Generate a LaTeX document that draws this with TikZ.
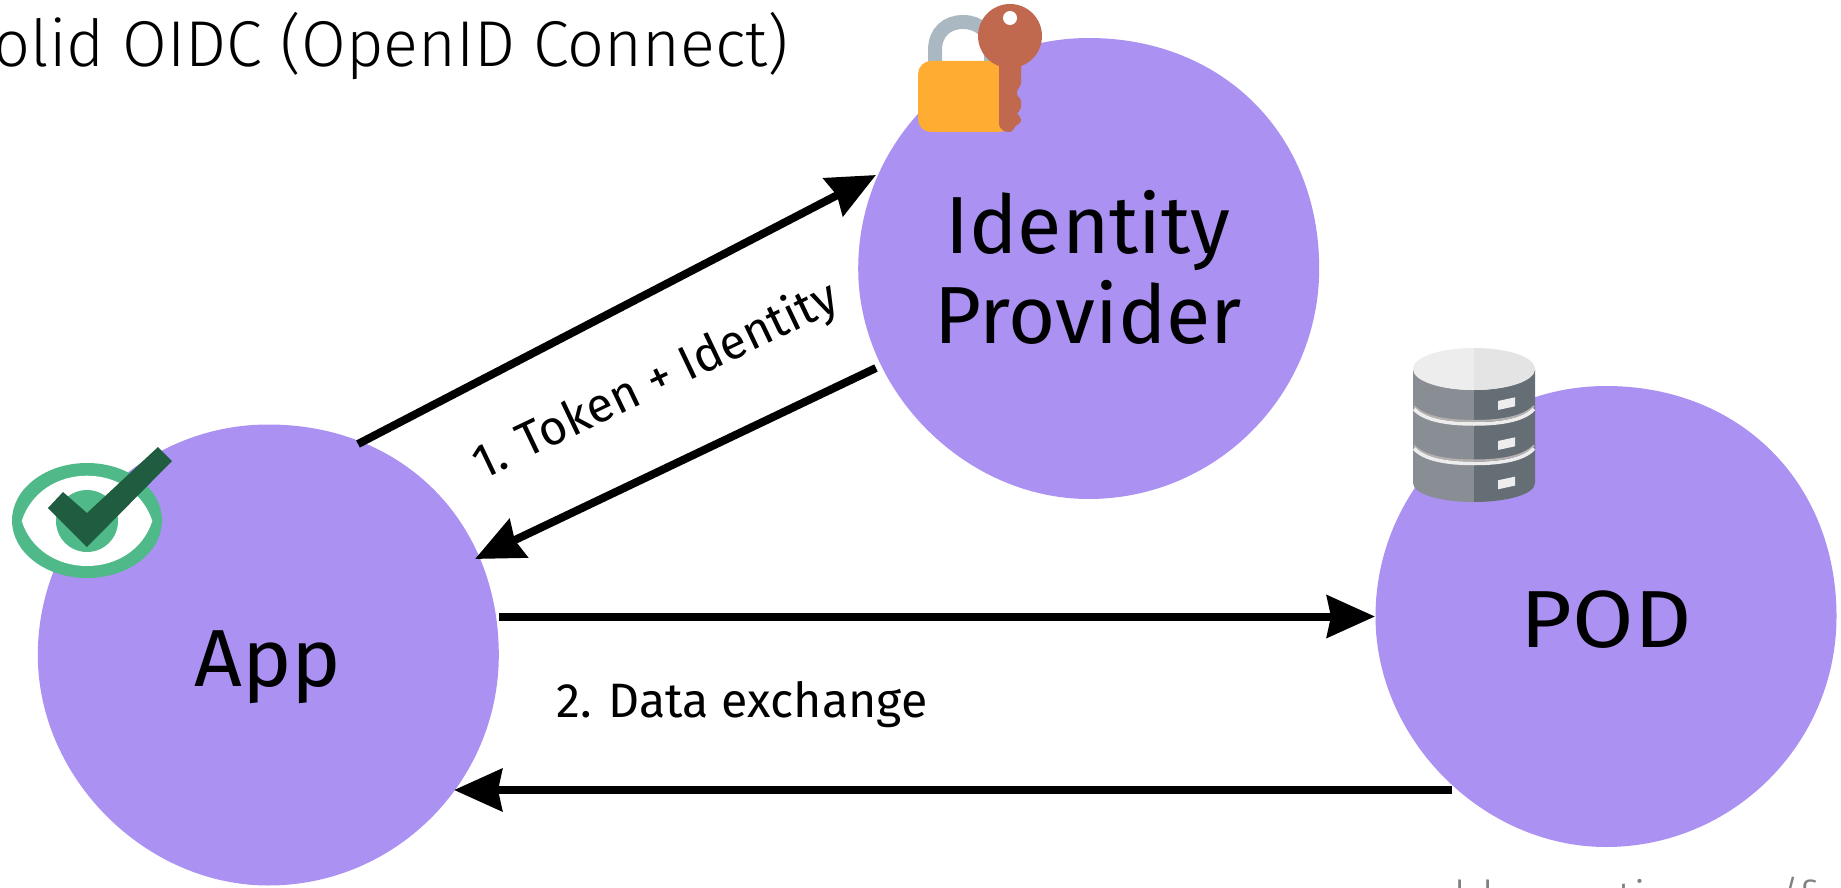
\documentclass[tikz,border=0pt]{standalone}
\usepackage{fontspec}
\setmainfont{Fira Sans}
\newfontfamily\lightfont{Fira Sans Light}
\usetikzlibrary{arrows.meta}
\definecolor{blobpurple}{HTML}{AB91F1}
\definecolor{lockbody}{HTML}{FFAC33}
\definecolor{shackle}{HTML}{AAB8C2}
\definecolor{keycol}{HTML}{C1694F}
\definecolor{eyegreen}{HTML}{4FB98A}
\definecolor{checkgreen}{HTML}{1F5C40}
\definecolor{dbleft}{HTML}{898E94}
\definecolor{dbright}{HTML}{666E75}
\definecolor{dbtopl}{HTML}{EDEDED}
\definecolor{dbtopr}{HTML}{E4E4E4}
\definecolor{dbshade}{HTML}{B4AFAF}
\newcommand\blobpath{(230.5,0) .. controls (230.5,-134) and (134,-230.5) .. (0,-230.5)
  .. controls (-127,-230.5) and (-230.5,-127) .. (-230.5,0)
  .. controls (-230.5,123) and (-123,230.5) .. (0,230.5)
  .. controls (127,230.5) and (230.5,127) .. (230.5,0) -- cycle}
\tikzset{
  blob/.style={fill=blobpurple},
  conn/.style={line width=8pt,-{Stealth[length=48pt,width=42pt,inset=4pt]}},
  biglabel/.style={font=\fontsize{81}{90}\selectfont,inner sep=0pt,align=center},
  midlabel/.style={font=\fontsize{48.3}{54}\selectfont,inner sep=0pt},
  srclabel/.style={inner sep=0pt,anchor=base west,text=gray,font=\fontsize{48}{52}\selectfont\lightfont},
}
\begin{document}
\begin{tikzpicture}[x=1pt,y=-1pt]
\useasboundingbox (0,0) rectangle (1841,888);
\clip (0,0) rectangle (1841,888);
% circles
\fill[blob,shift={(1088.7,268.5)}] \blobpath;
\fill[blob,shift={(268.3,655)}] \blobpath;
\fill[blob,shift={(1606,616.5)}] \blobpath;
% texts
\node[biglabel,anchor=base] (idp1) at (1088,253) {Identity};
\node[biglabel,anchor=base] (idp2) at (1088,343) {Provider};
\node[biglabel,anchor=base] (app) at (268,686) {\scalebox{1.03}[1]{App}};
\node[biglabel,anchor=base] (pod) at (1606,647) {\scalebox{1.1}[1]{POD}};
\node[anchor=base east,inner sep=0pt,font=\fontsize{64.8}{70}\selectfont\lightfont] (title) at (789,67) {olid OIDC (OpenID Connect)};
\node[midlabel,anchor=base west] (data) at (556,717) {2. Data exchange};
\node[midlabel,rotate=25.5] (tok) at (656,382) {1. Token + Identity};
% connectors
\coordinate (a1) at (358,444); \coordinate (a2) at (876,175);
\coordinate (b1) at (876,368); \coordinate (b2) at (475,559);
\coordinate (c1) at (499,616.5); \coordinate (c2) at (1375,616.5);
\coordinate (d1) at (1452,790); \coordinate (d2) at (454,790);
\draw[conn] (a1) -- (a2);
\draw[conn] (b1) -- (b2);
\draw[conn] (c1) -- (c2);
\draw[conn] (d1) -- (d2);
% lock
\draw[shackle,line width=14pt] (935,70) -- (935,50) .. controls (935,32) and (947,22) .. (963,22) .. controls (979,22) and (991,32) .. (991,50) -- (991,70);
\fill[lockbody,rounded corners=13pt] (918,61) rectangle (1012,132);
% key
\fill[keycol] (1010,36) circle[radius=32pt];
\fill[keycol,rounded corners=3pt] (999,60) -- (1021,60) -- (1021,86) -- (1017,89) -- (1017,97) -- (1021,98) -- (1021,110) -- (1017,112) -- (1017,115) -- (1021,117) -- (1021,123) -- (1016,125) -- (1012,132) -- (1005,132) -- (999,127) -- cycle;
\fill[white] (1010,18) circle[radius=7pt];
% eye
\fill[eyegreen] (87,520.5) circle[x radius=75pt,y radius=57.5pt];
\fill[white] (21.7,521) .. controls (31,492) and (58,475.7) .. (87,475.7) .. controls (116,475.7) and (143,492) .. (152.3,521) .. controls (143,550) and (116,566) .. (87,566) .. controls (58,566) and (31,550) .. (21.7,521) -- cycle;
\fill[eyegreen] (87,521) circle[radius=31pt];
\fill[checkgreen] (48,508) -- (63,492) -- (87,513) -- (158,447) -- (172,461) -- (87,547) -- cycle;
% database
\fill[dbleft] (1413,369) -- (1413,483) .. controls (1413,494) and (1440,502) .. (1474,502) -- (1474,390) .. controls (1440,390) and (1413,380) .. (1413,369) -- cycle;
\fill[dbright] (1535,369) -- (1535,483) .. controls (1535,494) and (1508,502) .. (1474,502) -- (1474,390) .. controls (1508,390) and (1535,380) .. (1535,369) -- cycle;
\fill[dbtopl] (1474,348) .. controls (1440,348) and (1413,357) .. (1413,369) .. controls (1413,381) and (1440,390) .. (1474,390) -- cycle;
\fill[dbtopr] (1474,348) .. controls (1508,348) and (1535,357) .. (1535,369) .. controls (1535,381) and (1508,390) .. (1474,390) -- cycle;
\foreach \dy in {0,39.5} {
  \draw[dbshade,line width=2pt,yshift=-\dy pt] (1414,406) .. controls (1425,418) and (1450,421) .. (1474,421) .. controls (1498,421) and (1523,418) .. (1534,406);
  \draw[dbtopl,line width=3.5pt,yshift=-\dy pt] (1414,409) .. controls (1425,421) and (1450,424) .. (1474,424) .. controls (1498,424) and (1523,421) .. (1534,409);
}
\foreach \dy in {0,40,79.3} {
  \fill[dbtopl,yshift=-\dy pt] (1498,401) -- (1515,397.3) -- (1515,406.3) -- (1498,410) -- cycle;
}
% cut-off source line
\node[srclabel] (src1) at (1438,915) {dd};
\node[srclabel] (src2) at (1617,915) {ti};
\node[srclabel] (src3) at (1775,915) {/f};
\end{tikzpicture}
\end{document}
